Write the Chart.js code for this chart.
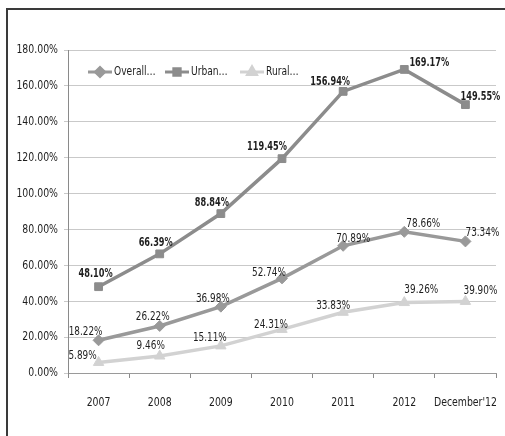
<!DOCTYPE html>
<html>
<head>
<meta charset="utf-8">
<script src="https://cdn.jsdelivr.net/npm/chart.js@4"></script>
<style>
  html, body { margin: 0; padding: 0; background: #fff; overflow: hidden; }
  #wrap { position: relative; width: 505px; height: 436px; }
  #frame {
    position: absolute; left: 6px; top: 8px; width: 499px; height: 428px;
    border-left: 2px solid #3a3a3a; border-top: 2px solid #3a3a3a;
    box-sizing: border-box; pointer-events: none;
  }
  canvas { position: absolute; left: 0; top: 0; }
</style>
</head>
<body>
<div id="wrap">
  <canvas id="chart" width="505" height="436"></canvas>
  <div id="frame"></div>
</div>
<script>
const FONT = "'DejaVu Sans Condensed', sans-serif";

const years = ["2007", "2008", "2009", "2010", "2011", "2012", "December'12"];
const overall = [18.22, 26.22, 36.98, 52.74, 70.89, 78.66, 73.34];
const urban = [48.10, 66.39, 88.84, 119.45, 156.94, 169.17, 149.55];
const rural = [5.89, 9.46, 15.11, 24.31, 33.83, 39.26, 39.90];

const seriesNames = ["Overall…", "Urban…", "Rural…"];

// label offsets from each point, [dx, dy]
const labelOffsets = [
  [[-13, -9], [-7, -9], [-8, -8], [-13, -6], [10, -7], [19, -8], [17, -9]],
  [[-3, -13], [-4, -11], [-9, -11], [-15, -12], [-13, -10], [25, -7], [15, -8]],
  [[-16, -7], [-9, -10], [-11, -8], [-11, -5], [-10, -7], [17, -13], [15, -11]],
];

const COLORS = ["#999999", "#8c8c8c", "#d2d2d2"];
const INK = "#1e1e1e";

// narrow text: squeeze horizontally around the anchor point
function narrowText(ctx, text, x, y, squeeze) {
  ctx.save();
  ctx.translate(x, y);
  ctx.scale(squeeze, 1);
  ctx.fillText(text, 0, 0);
  ctx.restore();
}

const valueLabels = {
  id: "valueLabels",
  afterDatasetsDraw(chart) {
    const ctx = chart.ctx;
    ctx.save();
    ctx.textAlign = "center";
    ctx.textBaseline = "middle";
    ctx.fillStyle = INK;
    chart.data.datasets.forEach((ds, i) => {
      const meta = chart.getDatasetMeta(i);
      const bold = i === 1;
      ctx.font = (bold ? "bold " : "") + "13px " + FONT;
      meta.data.forEach((pt, j) => {
        const [dx, dy] = labelOffsets[i][j];
        narrowText(ctx, ds.data[j].toFixed(2) + "%", pt.x + dx, pt.y + dy, bold ? 0.7 : 0.76);
      });
    });
    ctx.restore();
  },
};

// axis tick text drawn narrow; the scales keep their own (transparent) ticks for layout
const axisText = {
  id: "axisText",
  afterDraw(chart) {
    const ctx = chart.ctx;
    const { x, y } = chart.scales;
    ctx.save();
    ctx.fillStyle = INK;
    ctx.font = "13px " + FONT;
    ctx.textBaseline = "middle";
    ctx.textAlign = "right";
    y.ticks.forEach((t, i) => {
      narrowText(ctx, t.label, y.right - 10, y.getPixelForTick(i), 0.8);
    });
    ctx.textAlign = "center";
    x.ticks.forEach((t, i) => {
      narrowText(ctx, t.label, x.getPixelForTick(i), x.top + 30, 0.8);
    });
    ctx.restore();
  },
};

// line + marker legend inside the plot area
const insetLegend = {
  id: "insetLegend",
  afterDraw(chart) {
    const ctx = chart.ctx;
    const area = chart.chartArea;
    const y = area.top + 22;
    const starts = [area.left + 20, area.left + 97, area.left + 172];
    ctx.save();
    chart.data.datasets.forEach((ds, i) => {
      const x0 = starts[i];
      ctx.strokeStyle = COLORS[i];
      ctx.lineWidth = 3;
      ctx.beginPath();
      ctx.moveTo(x0, y);
      ctx.lineTo(x0 + 24, y);
      ctx.stroke();
      Chart.helpers.drawPoint(ctx, {
        pointStyle: ds.pointStyle,
        radius: ds.pointRadius - 1,
        borderWidth: 1,
      }, x0 + 12, y);
      ctx.fillStyle = COLORS[i];
      ctx.fill();
      ctx.fillStyle = INK;
      ctx.font = "13px " + FONT;
      ctx.textBaseline = "middle";
      ctx.textAlign = "left";
      narrowText(ctx, seriesNames[i], x0 + 26, y, 0.78);
    });
    ctx.restore();
  },
};

function series(label, data, color, style, radius) {
  return {
    label,
    data,
    borderColor: color,
    backgroundColor: color,
    borderWidth: 3.5,
    pointStyle: style,
    pointRadius: radius,
    pointBorderWidth: 1,
    pointBorderColor: color,
    pointBackgroundColor: color,
    tension: 0,
  };
}

new Chart(document.getElementById("chart"), {
  type: "line",
  data: {
    labels: years,
    datasets: [
      series(seriesNames[0], overall, COLORS[0], "rectRot", 5.5),
      series(seriesNames[1], urban, COLORS[1], "rect", 5.5),
      series(seriesNames[2], rural, COLORS[2], "triangle", 6),
    ],
  },
  options: {
    responsive: false,
    animation: false,
    layout: { padding: { top: 50, right: 9, left: 0, bottom: 0 } },
    plugins: {
      legend: { display: false },
      tooltip: { enabled: false },
    },
    scales: {
      x: {
        offset: true,
        grid: { offset: true, drawOnChartArea: false, tickLength: 5, color: "#8a8a8a" },
        border: { color: "#9a9a9a" },
        ticks: {
          color: "transparent", font: { family: FONT, size: 11 },
          padding: 19, maxRotation: 0, autoSkip: false,
        },
        afterFit(scale) {
          scale.height = 63;
          scale.paddingLeft = 0;
          scale.paddingRight = 0;
        },
      },
      y: {
        min: 0,
        max: 180,
        ticks: {
          stepSize: 20,
          color: "transparent",
          font: { family: FONT, size: 11 },
          padding: 6,
          callback: (v) => v.toFixed(2) + "%",
        },
        grid: { color: "#c9c9c9", tickLength: 4 },
        border: { color: "#8a8a8a" },
        afterFit(scale) { scale.width = 68; },
      },
    },
  },
  plugins: [valueLabels, axisText, insetLegend],
});
</script>
</body>
</html>
